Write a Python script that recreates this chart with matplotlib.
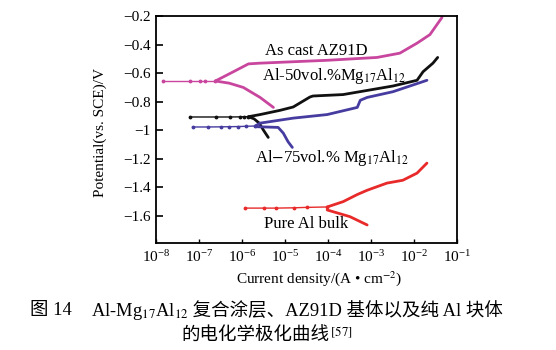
import matplotlib
matplotlib.use("Agg")
import matplotlib.pyplot as plt
import numpy as np
from matplotlib.offsetbox import TextArea, HPacker, AnchoredOffsetbox

plt.rcParams["font.family"] = ["Liberation Serif", "Noto Sans CJK SC"]
plt.rcParams["mathtext.fontset"] = "stix"
plt.rcParams["axes.unicode_minus"] = True

# current density given as log10(A/cm2), potential in V vs SCE
az_flat_log = [-7.83, -7.2, -6.97, -6.85, -6.62]
az_flat_v = [-0.655, -0.655, -0.655, -0.655, -0.655]
az_anodic_log = [-6.62, -6.2, -5.85, -5.58, -4.8, -4.02, -2.86, -2.33, -1.93, -1.63, -1.35]
az_anodic_v = [-0.655, -0.59, -0.535, -0.53, -0.52, -0.51, -0.49, -0.46, -0.39, -0.33, -0.21]
az_cathodic_log = [-6.62, -6.3, -5.97, -5.58, -5.27]
az_cathodic_v = [-0.655, -0.67, -0.70, -0.77, -0.84]

al50_flat_log = [-7.2, -6.6, -6.27, -6.05, -5.95, -5.85]
al50_flat_v = [-0.907, -0.907, -0.907, -0.906, -0.905, -0.905]
al50_anodic_log = [-5.85, -5.58, -5.11, -4.81, -4.42, -4.35, -3.65, -2.49, -1.93, -1.79, -1.56, -1.45]
al50_anodic_v = [-0.905, -0.89, -0.86, -0.837, -0.767, -0.76, -0.75, -0.69, -0.65, -0.59, -0.53, -0.49]
al50_cathodic_log = [-5.85, -5.72, -5.6, -5.5, -5.39]
al50_cathodic_v = [-0.905, -0.92, -0.95, -1.0, -1.05]

al75_flat_log = [-7.15, -6.8, -6.5, -6.3, -6.1, -5.9, -5.69]
al75_flat_v = [-0.977, -0.977, -0.976, -0.975, -0.974, -0.972, -0.97]
al75_anodic_log = [-5.69, -5.58, -4.81, -4.02, -3.32, -3.25, -3.09, -2.49, -1.70]
al75_anodic_v = [-0.97, -0.95, -0.915, -0.89, -0.84, -0.79, -0.77, -0.73, -0.65]
al75_cathodic_log = [-5.69, -5.46, -5.16, -5.04, -4.93, -4.83]
al75_cathodic_v = [-0.975, -0.977, -0.98, -1.02, -1.08, -1.12]

pure_flat_log = [-5.92, -5.5, -5.2, -4.8, -4.5, -4.02]
pure_flat_v = [-1.545, -1.545, -1.545, -1.543, -1.54, -1.537]
pure_anodic_log = [-4.02, -3.65, -3.32, -3.09, -2.63, -2.26, -1.93, -1.70]
pure_anodic_v = [-1.537, -1.50, -1.45, -1.42, -1.37, -1.35, -1.30, -1.23]
pure_cathodic_log = [-4.02, -3.49, -3.09]
pure_cathodic_v = [-1.558, -1.605, -1.663]

curves = [
    ("#c8469e", az_flat_log, az_flat_v, az_anodic_log, az_anodic_v, az_cathodic_log, az_cathodic_v),
    ("#111111", al50_flat_log, al50_flat_v, al50_anodic_log, al50_anodic_v, al50_cathodic_log, al50_cathodic_v),
    ("#463ca0", al75_flat_log, al75_flat_v, al75_anodic_log, al75_anodic_v, al75_cathodic_log, al75_cathodic_v),
    ("#e82a2a", pure_flat_log, pure_flat_v, pure_anodic_log, pure_anodic_v, pure_cathodic_log, pure_cathodic_v),
]

labels = ["As cast AZ91D", r"Al-50vol.%Mg$_\mathrm{17}$Al$_\mathrm{12}$",
          r"Al$-$75vol.% Mg$_\mathrm{17}$Al$_\mathrm{12}$", "Pure Al bulk"]
label_log = [-5.46, -5.53, -5.69, -5.5]
label_v = [-0.473, -0.648, -1.22, -1.684]

fig = plt.figure(figsize=(5.56, 3.5), dpi=100)
ax = fig.add_axes([0.2806, 0.3071, 0.5414, 0.6471])

for color, fl, fv, al, av, cl, cv in curves:
    ax.plot(10 ** np.array(fl), fv, color=color, lw=1.0, marker=".", ms=3.5)
    ax.plot(10 ** np.array(al), av, color=color, lw=2.0, solid_capstyle="round")
    ax.plot(10 ** np.array(cl), cv, color=color, lw=2.0, solid_capstyle="round")

for text, lx, ly in zip(labels, label_log, label_v):
    ax.text(10 ** lx, ly, text, fontsize=12, ha="left", va="baseline")

ax.set_xscale("log")
ax.set_xlim(1e-8, 1e-1)
ax.set_ylim(-1.786, -0.2)
ax.set_xticks([1e-8, 1e-7, 1e-6, 1e-5, 1e-4, 1e-3, 1e-2, 1e-1])
ax.set_yticks([-0.2, -0.4, -0.6, -0.8, -1.0, -1.2, -1.4, -1.6])
ax.set_yticklabels(["\u22120.2", "\u22120.4", "\u22120.6", "\u22120.8", "\u22121",
                    "\u22121.2", "\u22121.4", "\u22121.6"])
ax.tick_params(axis="y", which="major", direction="in", length=5, width=1.2,
               labelsize=11, pad=4, right=False)
ax.tick_params(axis="x", which="major", direction="in", length=3, width=1.0,
               labelsize=11, pad=5, top=False)
ax.tick_params(axis="x", which="minor", direction="in", length=1.5, width=0.8, top=False)
for s in ax.spines.values():
    s.set_linewidth(1.3)

fig.text(100 / 556, 1 - 132 / 350, "Potential(vs. SCE)/V", rotation=90,
         fontsize=11, ha="center", va="center")
fig.text(319 / 556, 1 - 279 / 350, "Current density/(A \u2022 cm$^{-2}$)",
         fontsize=11, ha="center", va="center")

cjk = ["Liberation Serif", "Noto Sans CJK SC"]
cap_size = 13.3
line1 = HPacker(children=[
    TextArea("图 14\u3000", textprops=dict(fontsize=cap_size, family=cjk)),
    TextArea(r"Al-Mg$_\mathrm{17}$Al$_\mathrm{12}$", textprops=dict(fontsize=cap_size, family="Liberation Serif")),
    TextArea(" 复合涂层、AZ91D 基体以及纯 Al 块体", textprops=dict(fontsize=cap_size, family=cjk)),
], align="baseline", pad=0, sep=0)
line2 = HPacker(children=[
    TextArea("的电化学极化曲线", textprops=dict(fontsize=cap_size, family=cjk)),
    TextArea(r"$^\mathrm{[57]}$", textprops=dict(fontsize=cap_size, family="Liberation Serif")),
], align="baseline", pad=0, sep=0)

for box, yy in [(line1, 1 - 311 / 350), (line2, 1 - 336 / 350)]:
    anchored = AnchoredOffsetbox(loc="center", child=box, pad=0, borderpad=0, frameon=False,
                                 bbox_to_anchor=(0.48, yy), bbox_transform=fig.transFigure)
    fig.add_artist(anchored)

fig.savefig("out.png", dpi=100)
